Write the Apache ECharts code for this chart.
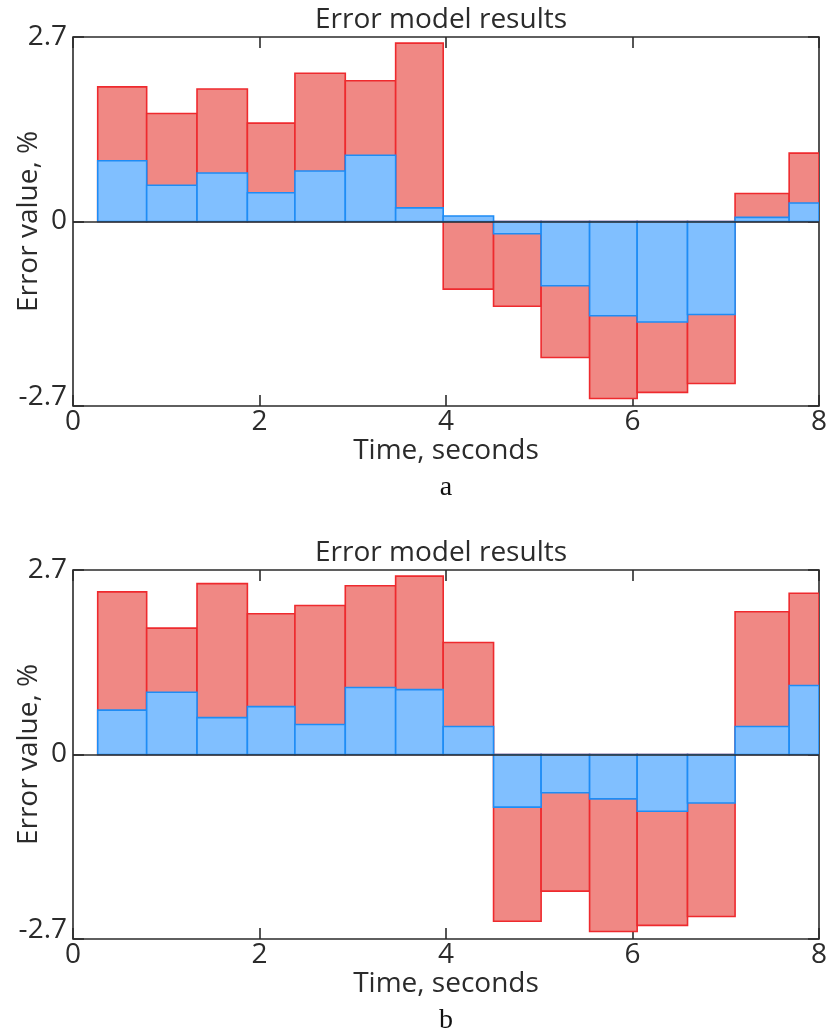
<!DOCTYPE html>
<html>
<head>
<meta charset="utf-8">
<script src="https://cdn.jsdelivr.net/npm/echarts@6/dist/echarts.min.js"></script>
<style>
    body { margin: 0; background: #fff; }
    #chart { width: 829px; height: 1030px; }
</style>
</head>
<body>
<div id="chart"></div>
<script>
// bar edges along the time axis, seconds (15 bars, the last one cut by the axis)
const edges = [0.265, 0.79, 1.33, 1.87, 2.38, 2.92, 3.46, 3.97, 4.51, 5.02, 5.54, 6.05, 6.59, 7.10, 7.68, 8.0];

// panel a
const redA = [1.97, 1.58, 1.94, 1.44, 2.17, 2.06, 2.61, -0.99, -1.24, -1.99, -2.59, -2.50, -2.37, 0.41, 1.00];
const blueA = [0.89, 0.53, 0.71, 0.42, 0.74, 0.97, 0.20, 0.08, -0.18, -0.94, -1.38, -1.47, -1.36, 0.06, 0.27];

// panel b
const redB = [2.38, 1.85, 2.50, 2.06, 2.18, 2.47, 2.61, 1.64, -2.44, -2.00, -2.59, -2.50, -2.37, 2.09, 2.36];
const blueB = [0.65, 0.91, 0.54, 0.70, 0.44, 0.98, 0.95, 0.41, -0.77, -0.56, -0.65, -0.83, -0.71, 0.41, 1.01];

const xTicks = [0, 2, 4, 6, 8];
const yTicks = [-2.7, 0, 2.7];
const captions = ['a', 'b'];

const font = 'Open Sans';
const ink = '#2b2b2b';
const fs = 28;

function toBars(values) {
    return values.map((v, i) => [edges[i], edges[i + 1], v]);
}

function barItem(fill, stroke) {
    return function (params, api) {
        let p0 = api.coord([api.value(0), 0]);
        let p1 = api.coord([api.value(1), api.value(2)]);
        return {
            type: 'rect',
            shape: {
                x: p0[0],
                y: Math.min(p0[1], p1[1]),
                width: p1[0] - p0[0],
                height: Math.abs(p1[1] - p0[1])
            },
            style: {fill: fill, stroke: stroke, lineWidth: 1.6}
        };
    };
}

let myChart = echarts.init(document.getElementById('chart'));

let grids = [];
let xAxes = [];
let yAxes = [];
let series = [];
let titles = [];
let panels = [[redA, blueA], [redB, blueB]];

panels.forEach((pair, k) => {
    let top = 37 + k * 533;
    grids.push({
        left: 73, right: 10, top: top, height: 369,
        show: true, borderColor: ink, borderWidth: 1.6,
        containLabel: false, outerBoundsMode: 'none'
    });
    let tick = {show: true, inside: true, length: 11, lineStyle: {color: ink, width: 1.6}};
    let hiddenLine = {show: false, onZero: false};
    xAxes.push({
        gridIndex: k, type: 'value', min: xTicks[0], max: xTicks[xTicks.length - 1],
        interval: xTicks[1] - xTicks[0], position: 'bottom',
        name: 'Time, seconds', nameLocation: 'middle', nameGap: 31, nameMoveOverlap: false,
        nameTextStyle: {fontFamily: font, fontSize: fs, color: ink},
        axisLine: hiddenLine, splitLine: {show: false}, axisTick: tick,
        axisLabel: {fontFamily: font, fontSize: fs, color: ink, margin: 2}
    });
    xAxes.push({
        gridIndex: k, type: 'value', min: xTicks[0], max: xTicks[xTicks.length - 1],
        interval: xTicks[1] - xTicks[0], position: 'top',
        axisLine: hiddenLine, splitLine: {show: false}, axisTick: tick,
        axisLabel: {show: false}
    });
    yAxes.push({
        gridIndex: k, type: 'value', min: yTicks[0], max: yTicks[2],
        interval: yTicks[2], position: 'left',
        name: 'Error value, %', nameLocation: 'middle', nameGap: 30, nameMoveOverlap: false,
        nameTextStyle: {fontFamily: font, fontSize: fs, color: ink},
        axisLine: hiddenLine, splitLine: {show: false}, axisTick: tick,
        axisLabel: {
            fontFamily: font, fontSize: fs, color: ink, margin: 6,
            formatter: function (v) {
                // the lowest label sits a little above its tick, as in the picture
                return v === yTicks[0] ? '{low|' + v + '}' : String(v);
            },
            rich: {low: {fontFamily: font, fontSize: fs, color: ink, padding: [0, 0, 17, 0]}}
        }
    });
    yAxes.push({
        gridIndex: k, type: 'value', min: yTicks[0], max: yTicks[2],
        interval: yTicks[2], position: 'right',
        axisLine: hiddenLine, splitLine: {show: false}, axisTick: tick,
        axisLabel: {show: false}
    });
    series.push({
        type: 'custom', xAxisIndex: k * 2, yAxisIndex: k * 2, clip: true,
        renderItem: barItem('#f08884', '#ee2a2e'),
        encode: {x: [0, 1], y: 2},
        data: toBars(pair[0])
    });
    series.push({
        type: 'custom', xAxisIndex: k * 2, yAxisIndex: k * 2, clip: true,
        renderItem: barItem('#80bfff', '#1e8cf5'),
        encode: {x: [0, 1], y: 2},
        data: toBars(pair[1]),
        markLine: {
            silent: true, symbol: ['none', 'none'], label: {show: false},
            lineStyle: {color: ink, width: 1.6, type: 'solid'},
            data: [{yAxis: 0}]
        }
    });
    titles.push({
        text: 'Error model results', left: 441, top: top - 31, textAlign: 'center',
        padding: 0,
        textStyle: {fontFamily: font, fontSize: fs, fontWeight: 'normal', color: ink}
    });
    titles.push({
        text: captions[k], left: 446, top: top + 437, textAlign: 'center',
        padding: 0,
        textStyle: {fontFamily: 'Liberation Serif', fontSize: 28, fontWeight: 'normal', color: '#111'}
    });
});

let option = {
    backgroundColor: '#fff',
    animation: false,
    title: titles,
    grid: grids,
    xAxis: xAxes,
    yAxis: yAxes,
    series: series
};
myChart.setOption(option);
</script>
</body>
</html>
